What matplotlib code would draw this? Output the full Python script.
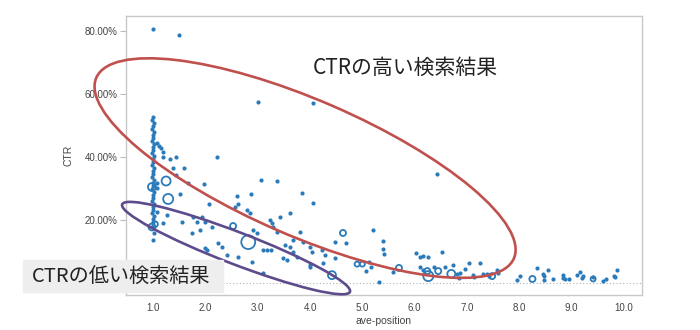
import matplotlib.pyplot as plt
import matplotlib.transforms as mtransforms
from matplotlib.patches import Ellipse, Rectangle
from matplotlib.ticker import FuncFormatter

plt.rcParams['font.family'] = ['Liberation Sans', 'Noto Sans CJK JP', 'DejaVu Sans']

# 掲載順位ごとの CTR (%) -- 1位付近の縦の列
col_pos = [1.0, 0.99, 1.01, 1.0, 0.99, 1.01, 1.0, 1.0, 0.99, 1.01, 1.0, 1.0, 0.99,
           1.01, 1.0, 1.0, 0.99, 1.01, 1.0, 1.0, 0.99, 1.01, 1.0, 1.0, 0.99, 1.01,
           1.0, 1.0, 0.99, 1.01, 1.0, 1.0, 0.99, 1.01, 1.0, 1.0, 0.99, 1.01, 1.0]
col_ctr = [52.7, 51.8, 50.8, 49.8, 48.9, 47.9, 47.0, 46.0, 45.1, 44.1, 43.2, 42.2,
           41.3, 40.3, 39.4, 38.4, 37.5, 36.5, 35.6, 34.6, 33.7, 32.7, 31.8, 30.8,
           29.8, 28.9, 27.9, 27.0, 26.0, 25.1, 24.1, 23.2, 22.2, 21.3, 20.3, 19.4,
           17.8, 15.9, 13.7]

# その他のキーワード
kw_pos = [1.00, 1.50, 3.01, 4.06, 2.22, 6.43, 1.08, 1.11, 1.15, 1.19, 1.19, 1.33,
          1.44, 1.38, 1.59, 1.44, 1.08, 1.08, 1.67, 1.98, 1.52, 3.07, 3.37, 2.61,
          2.87, 2.07, 2.63, 2.57, 2.85, 3.85, 4.06, 2.80, 3.24, 3.28, 3.43, 3.62,
          1.08, 1.27, 1.19, 1.55, 1.76, 1.84, 1.94, 1.99, 2.13, 2.91, 2.99, 1.90,
          1.75, 2.24, 2.32, 1.99, 2.03, 2.41, 2.63, 2.89, 3.10, 3.10, 3.18, 3.26,
          3.52, 3.62, 3.68, 3.75, 3.49, 3.56, 3.81, 4.00, 4.04, 4.23, 4.29, 4.48,
          4.25, 4.48, 3.37, 3.29, 3.68, 3.87, 4.69, 5.21, 5.40, 5.40, 5.42, 4.00,
          4.00, 5.13, 5.17, 5.07, 5.32, 5.59, 6.03, 6.11, 6.16, 6.26, 6.53, 6.11,
          6.16, 6.37, 6.58, 6.74, 6.81, 6.87, 6.85, 6.97, 7.04, 7.25, 7.12, 7.14,
          7.31, 7.39, 7.42, 7.58, 7.60, 7.96, 8.02, 8.34, 8.46, 8.48, 8.48, 8.55,
          8.65, 8.84, 8.84, 8.88, 8.95, 9.11, 9.15, 9.20, 9.22, 9.41, 9.59, 9.66,
          9.80, 9.83, 9.87]
kw_ctr = [80.6, 78.7, 57.5, 57.1, 40.0, 34.6, 44.4, 43.5, 42.9, 41.6, 40.0, 39.4,
          40.0, 36.5, 36.5, 34.3, 31.8, 30.2, 31.8, 31.4, 28.3, 32.7, 32.4, 27.6,
          28.3, 25.1, 25.1, 24.1, 22.2, 28.6, 25.4, 23.2, 20.0, 19.0, 21.0, 22.2,
          22.5, 21.6, 19.0, 19.4, 21.0, 19.4, 21.0, 19.4, 17.8, 16.8, 15.9, 16.8,
          15.9, 12.7, 11.4, 11.1, 10.5, 8.9, 8.3, 6.7, 3.2, 10.5, 10.5, 10.5,
          12.1, 11.4, 9.8, 8.3, 7.9, 7.3, 16.2, 11.4, 9.8, 10.5, 8.9, 13.0,
          6.3, 7.9, 16.2, 17.8, 13.7, 13.0, 12.7, 16.8, 13.3, 10.8, 9.2, 5.7,
          5.1, 6.7, 5.1, 3.8, 0.3, 3.5, 9.5, 8.3, 8.6, 8.3, 9.8, 5.1,
          4.1, 5.1, 5.1, 5.7, 2.9, 3.2, 1.6, 4.4, 6.3, 6.3, 2.5, 1.9,
          2.9, 2.9, 2.2, 4.1, 3.2, 1.0, 2.2, 4.8, 2.9, 2.2, 1.0, 4.1,
          1.3, 2.5, 1.6, 1.3, 1.3, 2.5, 3.5, 1.6, 2.2, 1.9, 0.6, 1.3,
          2.2, 1.9, 4.1]

# 表示回数の多いキーワード (円の大きさ = 表示回数)
big_pos = [1.25, 0.98, 1.29, 0.98, 1.04, 2.53, 2.82, 4.63, 4.42, 4.90, 5.00, 5.70,
           6.24, 6.26, 6.45, 6.70, 7.48, 8.25, 9.41]
big_ctr = [32.4, 30.5, 26.7, 17.8, 18.7, 18.1, 13.0, 15.9, 2.5, 6.0, 6.0, 4.8,
           3.8, 2.2, 3.8, 2.9, 2.2, 1.3, 1.3]
big_imp = [42, 33, 52, 25, 16, 19, 100, 19, 33, 13, 13, 19, 19, 52, 19, 33, 19, 19, 13]

xticks = [1.0, 2.0, 3.0, 4.0, 5.0, 6.0, 7.0, 8.0, 9.0, 10.0]
yticks = [20, 40, 60, 80]

blue = '#2b7bba'
red = '#c0504d'
purple = '#5d4b8c'

fig = plt.figure(figsize=(7, 3.3), dpi=100)
ax = fig.add_axes([126 / 700, 35 / 330, 516 / 700, 279 / 330])

ax.axhline(0, color='#b0b0b0', lw=0.8, ls=(0, (1, 2)), zorder=1)
ax.scatter(col_pos, col_ctr, s=9, color=blue, lw=0, zorder=3)
ax.scatter(kw_pos, kw_ctr, s=9, color=blue, lw=0, zorder=3)
ax.scatter(big_pos, big_ctr, s=big_imp, facecolors='none', edgecolors=blue,
           linewidths=1.3, zorder=3)

ax.set_xlim(0.484, 10.344)
ax.set_ylim(-3.8, 84.8)
ax.set_xticks(xticks)
ax.set_yticks(yticks)
ax.xaxis.set_major_formatter(FuncFormatter(lambda v, p: f'{v:.1f}'))
ax.yaxis.set_major_formatter(FuncFormatter(lambda v, p: f'{v:.2f}%'))
ax.tick_params(axis='x', length=0, pad=6, labelsize=7, labelcolor='#444444')
ax.tick_params(axis='y', length=4, width=0.8, color='#bbbbbb', pad=2,
               labelsize=7, labelcolor='#444444')
for sp in ax.spines.values():
    sp.set_color('#c8c8c8')
    sp.set_linewidth(1.0)
ax.set_xlabel('ave-position', fontsize=7.5, color='#444444', labelpad=2)
ax.set_ylabel('CTR', fontsize=7.5, color='#444444', labelpad=8)

# 楕円は中心をデータ座標、大きさをインチで指定
def ring(cx, cy, w, h, ang, col):
    tr = fig.dpi_scale_trans + mtransforms.ScaledTranslation(cx, cy, ax.transData)
    e = Ellipse((0, 0), w, h, angle=ang, transform=tr, fill=False,
                edgecolor=col, lw=1.9, clip_on=False, zorder=4)
    ax.add_patch(e)

ring(3.906, 36.5, 4.55, 1.36, -23.4, red)
ring(2.587, 11.1, 2.44, 0.32, -21.0, purple)

fig.text(313 / 700, 1 - 68 / 330, 'CTRの高い検索結果', fontsize=15, color='#222222',
         family=['Noto Sans CJK JP', 'DejaVu Sans'], ha='left', va='center')

fig.patches.append(Rectangle((23 / 700, 38 / 330), 200 / 700, 32 / 330,
                             transform=fig.transFigure, color='#eeeeee', zorder=5))
fig.text(32 / 700, 1 - 276 / 330, 'CTRの低い検索結果', fontsize=14.5, color='#222222',
         family=['Noto Sans CJK JP', 'DejaVu Sans'], ha='left', va='center', zorder=6)

fig.savefig('out.png', dpi=100)
